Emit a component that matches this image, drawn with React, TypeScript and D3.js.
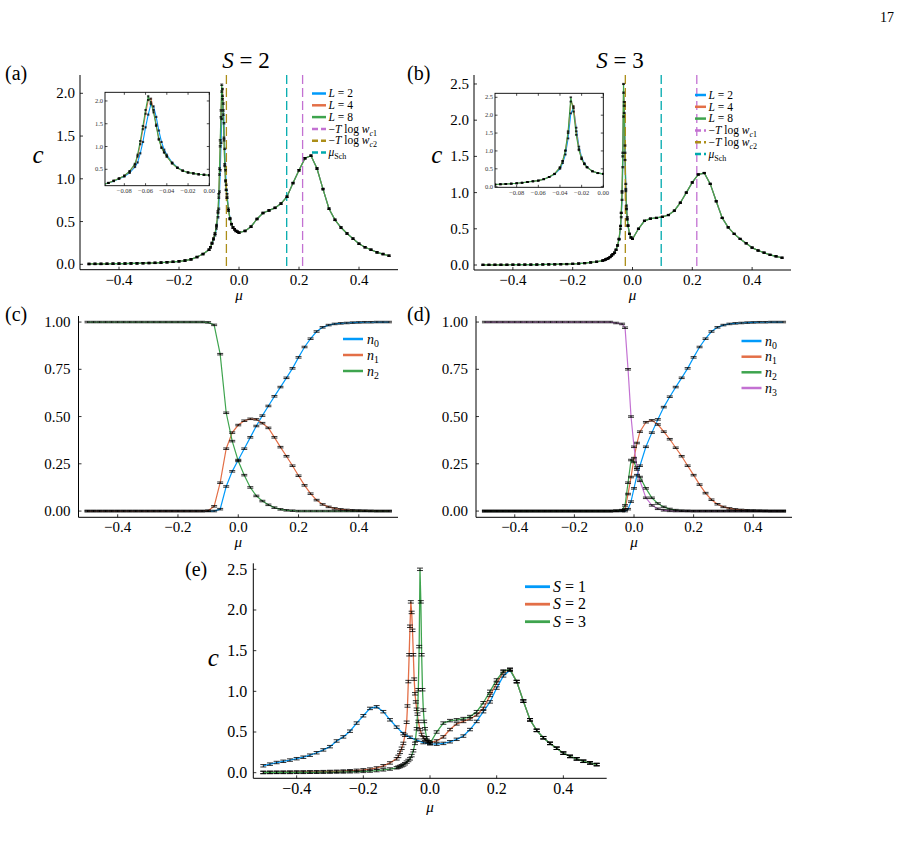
import React from 'react'
import * as d3 from 'd3'

const FONT = "'Liberation Serif', 'DejaVu Serif', serif"
const BLUE = '#009AFA'
const ORANGE = '#E36F47'
const GREEN = '#3EA44E'
const PURPLE = '#C371D2'
const GOLD = '#AC8E18'
const CYAN = '#00AAAE'

// (a) S = 2, specific heat for L = 2, 4, 8
const muA = [-0.5, -0.48, -0.46, -0.44, -0.42, -0.4, -0.38, -0.36, -0.34, -0.32, -0.3, -0.28, -0.26, -0.24, -0.22, -0.2, -0.18, -0.16, -0.14, -0.12,
  -0.1, -0.095, -0.09, -0.085, -0.08, -0.075, -0.07, -0.0675, -0.065, -0.0625, -0.06, -0.0575, -0.055, -0.0525, -0.05, -0.0475, -0.045, -0.0425, -0.04, -0.035, -0.03, -0.025, -0.02, -0.015, -0.01, -0.005, 0,
  0.02, 0.04, 0.06, 0.08, 0.1, 0.12, 0.14, 0.16, 0.18, 0.2, 0.22, 0.24, 0.26, 0.28, 0.3, 0.32, 0.34, 0.36, 0.38, 0.4, 0.42, 0.44, 0.46, 0.48, 0.5]
const cA8 = [0.004, 0.005, 0.005, 0.006, 0.007, 0.008, 0.009, 0.01, 0.011, 0.013, 0.015, 0.017, 0.02, 0.024, 0.029, 0.035, 0.044, 0.058, 0.085, 0.12,
  0.17, 0.2, 0.25, 0.3, 0.36, 0.46, 0.62, 0.82, 1.12, 1.45, 1.8, 2.1, 1.97, 1.75, 1.45, 1.15, 0.97, 0.87, 0.78, 0.63, 0.53, 0.47, 0.43, 0.41, 0.39, 0.38, 0.37,
  0.39, 0.44, 0.53, 0.6, 0.63, 0.66, 0.71, 0.79, 0.95, 1.1, 1.24, 1.27, 1.12, 0.88, 0.65, 0.52, 0.43, 0.36, 0.3, 0.24, 0.2, 0.17, 0.14, 0.12, 0.1]
const cA4 = [0.004, 0.005, 0.005, 0.006, 0.007, 0.008, 0.009, 0.01, 0.011, 0.013, 0.015, 0.017, 0.02, 0.024, 0.029, 0.035, 0.044, 0.058, 0.085, 0.12,
  0.17, 0.2, 0.25, 0.3, 0.36, 0.45, 0.6, 0.78, 1.05, 1.38, 1.72, 2.02, 2.05, 1.8, 1.48, 1.17, 0.98, 0.87, 0.78, 0.63, 0.53, 0.47, 0.43, 0.41, 0.39, 0.38, 0.37,
  0.39, 0.44, 0.53, 0.6, 0.63, 0.66, 0.71, 0.79, 0.95, 1.1, 1.24, 1.27, 1.12, 0.88, 0.65, 0.52, 0.43, 0.36, 0.3, 0.24, 0.2, 0.17, 0.14, 0.12, 0.1]
const cA2 = [0.004, 0.005, 0.005, 0.006, 0.007, 0.008, 0.009, 0.01, 0.011, 0.013, 0.015, 0.017, 0.02, 0.024, 0.029, 0.035, 0.044, 0.058, 0.085, 0.12,
  0.17, 0.2, 0.24, 0.29, 0.34, 0.42, 0.55, 0.65, 0.85, 1.1, 1.42, 1.7, 1.93, 1.88, 1.65, 1.35, 1.1, 0.93, 0.82, 0.65, 0.54, 0.47, 0.43, 0.41, 0.39, 0.38, 0.37,
  0.39, 0.44, 0.53, 0.6, 0.63, 0.66, 0.71, 0.79, 0.95, 1.1, 1.24, 1.27, 1.12, 0.88, 0.65, 0.52, 0.43, 0.36, 0.3, 0.24, 0.2, 0.17, 0.14, 0.12, 0.1]
const vlinesA = [0.212, -0.042, 0.159] // -T log w_c1, -T log w_c2, mu_Sch

// (b) S = 3
const muB = [-0.5, -0.48, -0.46, -0.44, -0.42, -0.4, -0.38, -0.36, -0.34, -0.32, -0.3, -0.28, -0.26, -0.24, -0.22, -0.2, -0.18, -0.16, -0.14, -0.12,
  -0.1, -0.095, -0.09, -0.085, -0.08, -0.075, -0.07, -0.065, -0.06, -0.055, -0.05, -0.045, -0.04, -0.0375, -0.035, -0.0325, -0.03, -0.0275, -0.025, -0.0225, -0.02, -0.0175, -0.015, -0.01, -0.005, 0,
  0.02, 0.04, 0.06, 0.08, 0.1, 0.12, 0.14, 0.16, 0.18, 0.2, 0.22, 0.24, 0.26, 0.28, 0.3, 0.32, 0.34, 0.36, 0.38, 0.4, 0.42, 0.44, 0.46, 0.48, 0.5]
const cB8 = [0.002, 0.002, 0.003, 0.003, 0.003, 0.004, 0.004, 0.005, 0.005, 0.006, 0.007, 0.008, 0.009, 0.011, 0.013, 0.016, 0.02, 0.026, 0.035, 0.045,
  0.06, 0.068, 0.076, 0.085, 0.095, 0.11, 0.13, 0.15, 0.17, 0.21, 0.27, 0.36, 0.54, 0.72, 1.02, 1.55, 2.5, 2.1, 1.45, 1.02, 0.77, 0.63, 0.54, 0.43, 0.38, 0.36,
  0.5, 0.61, 0.64, 0.65, 0.665, 0.69, 0.75, 0.86, 1.0, 1.14, 1.25, 1.27, 1.12, 0.88, 0.65, 0.52, 0.43, 0.36, 0.3, 0.24, 0.2, 0.17, 0.14, 0.12, 0.1]
const cB4 = [0.002, 0.002, 0.003, 0.003, 0.003, 0.004, 0.004, 0.005, 0.005, 0.006, 0.007, 0.008, 0.009, 0.011, 0.013, 0.016, 0.02, 0.026, 0.035, 0.045,
  0.06, 0.068, 0.076, 0.085, 0.095, 0.11, 0.13, 0.15, 0.17, 0.21, 0.27, 0.36, 0.54, 0.72, 1.0, 1.5, 2.38, 2.25, 1.55, 1.05, 0.78, 0.63, 0.54, 0.43, 0.38, 0.36,
  0.5, 0.61, 0.64, 0.65, 0.665, 0.69, 0.75, 0.86, 1.0, 1.14, 1.25, 1.27, 1.12, 0.88, 0.65, 0.52, 0.43, 0.36, 0.3, 0.24, 0.2, 0.17, 0.14, 0.12, 0.1]
const cB2 = [0.002, 0.002, 0.003, 0.003, 0.003, 0.004, 0.004, 0.005, 0.005, 0.006, 0.007, 0.008, 0.009, 0.011, 0.013, 0.016, 0.02, 0.026, 0.035, 0.045,
  0.06, 0.068, 0.076, 0.085, 0.095, 0.11, 0.13, 0.15, 0.17, 0.21, 0.27, 0.35, 0.5, 0.66, 0.9, 1.35, 2.05, 2.2, 1.65, 1.12, 0.82, 0.66, 0.55, 0.43, 0.38, 0.36,
  0.5, 0.61, 0.64, 0.65, 0.665, 0.69, 0.75, 0.86, 1.0, 1.14, 1.25, 1.27, 1.12, 0.88, 0.65, 0.52, 0.43, 0.36, 0.3, 0.24, 0.2, 0.17, 0.14, 0.12, 0.1]
const vlinesB = [0.215, -0.024, 0.096]

// (c) S = 2 occupations
const muC = [-0.5, -0.48, -0.46, -0.44, -0.42, -0.4, -0.38, -0.36, -0.34, -0.32, -0.3, -0.28, -0.26, -0.24, -0.22, -0.2, -0.18, -0.16, -0.14, -0.12, -0.1, -0.08,
  -0.06, -0.04, -0.02, 0, 0.02, 0.04, 0.06, 0.08, 0.1, 0.12, 0.14, 0.16, 0.18, 0.2, 0.22, 0.24, 0.26, 0.28, 0.3, 0.32, 0.34, 0.36, 0.38, 0.4, 0.42, 0.44, 0.46, 0.48, 0.5]
const n0C = [0, 0, 0, 0, 0, 0, 0, 0, 0, 0, 0, 0, 0, 0, 0, 0, 0, 0, 0, 0, 0, 0,
  0.01, 0.13, 0.21, 0.27, 0.33, 0.39, 0.45, 0.505, 0.556, 0.607, 0.656, 0.705, 0.755, 0.813, 0.868, 0.912, 0.95, 0.972, 0.984, 0.99, 0.993, 0.995, 0.997, 0.998, 0.999, 0.999, 1, 1, 1]
const n1C = [0, 0, 0, 0, 0, 0, 0, 0, 0, 0, 0, 0, 0, 0, 0, 0, 0, 0, 0, 0, 0.002, 0.025,
  0.15, 0.33, 0.415, 0.455, 0.478, 0.488, 0.485, 0.465, 0.44, 0.39, 0.338, 0.29, 0.24, 0.187, 0.136, 0.092, 0.058, 0.035, 0.022, 0.014, 0.009, 0.006, 0.004, 0.003, 0.002, 0.001, 0, 0, 0]
const n2C = [1, 1, 1, 1, 1, 1, 1, 1, 1, 1, 1, 1, 1, 1, 1, 1, 1, 1, 1, 1, 0.998, 0.985,
  0.83, 0.52, 0.37, 0.265, 0.19, 0.125, 0.08, 0.053, 0.033, 0.018, 0.009, 0.004, 0.002, 0, 0, 0, 0, 0, 0, 0, 0, 0, 0, 0, 0, 0, 0, 0, 0]

// (d) S = 3 occupations
const muD = [-0.5, -0.48, -0.46, -0.44, -0.42, -0.4, -0.38, -0.36, -0.34, -0.32, -0.3, -0.28, -0.26, -0.24, -0.22, -0.2, -0.18, -0.16, -0.14, -0.12, -0.1, -0.08, -0.06,
  -0.04, -0.03, -0.02, -0.01, 0, 0.01, 0.02,
  0.04, 0.06, 0.08, 0.1, 0.12, 0.14, 0.16, 0.18, 0.2, 0.22, 0.24, 0.26, 0.28, 0.3, 0.32, 0.34, 0.36, 0.38, 0.4, 0.42, 0.44, 0.46, 0.48, 0.5]
const n0D = [0, 0, 0, 0, 0, 0, 0, 0, 0, 0, 0, 0, 0, 0, 0, 0, 0, 0, 0, 0, 0, 0, 0,
  0, 0, 0.01, 0.05, 0.12, 0.19, 0.24,
  0.34, 0.415, 0.485, 0.55, 0.605, 0.656, 0.705, 0.755, 0.813, 0.868, 0.912, 0.95, 0.972, 0.984, 0.99, 0.993, 0.995, 0.997, 0.998, 0.999, 0.999, 1, 1, 1]
const n1D = [0, 0, 0, 0, 0, 0, 0, 0, 0, 0, 0, 0, 0, 0, 0, 0, 0, 0, 0, 0, 0, 0, 0.001,
  0.003, 0.01, 0.09, 0.18, 0.28, 0.36, 0.42,
  0.47, 0.48, 0.458, 0.42, 0.38, 0.335, 0.29, 0.24, 0.19, 0.14, 0.095, 0.06, 0.036, 0.022, 0.014, 0.009, 0.006, 0.004, 0.003, 0.002, 0.001, 0, 0, 0]
const n2D = [0, 0, 0, 0, 0, 0, 0, 0, 0, 0, 0, 0, 0, 0, 0, 0, 0, 0, 0, 0, 0, 0, 0.002,
  0.005, 0.03, 0.15, 0.27, 0.26, 0.22, 0.18,
  0.12, 0.07, 0.04, 0.022, 0.011, 0.005, 0.002, 0.001, 0, 0, 0, 0, 0, 0, 0, 0, 0, 0, 0, 0, 0, 0, 0, 0]
const n3D = [1, 1, 1, 1, 1, 1, 1, 1, 1, 1, 1, 1, 1, 1, 1, 1, 1, 1, 1, 1, 1, 1, 0.995,
  0.99, 0.97, 0.75, 0.5, 0.34, 0.23, 0.16,
  0.07, 0.03, 0.012, 0.004, 0.001, 0, 0, 0, 0, 0, 0, 0, 0, 0, 0, 0, 0, 0, 0, 0, 0, 0, 0, 0]

// (e) S = 1 (S = 2 and S = 3 reuse the L = 8 curves above)
const muE1 = [-0.5, -0.48, -0.46, -0.44, -0.42, -0.4, -0.38, -0.36, -0.34, -0.32, -0.3, -0.28, -0.26, -0.24, -0.22, -0.2, -0.18, -0.16, -0.14, -0.12, -0.1, -0.08, -0.06, -0.04, -0.02,
  0, 0.02, 0.04, 0.06, 0.08, 0.1, 0.12, 0.14, 0.16, 0.18, 0.2, 0.22, 0.24, 0.26, 0.28, 0.3, 0.32, 0.34, 0.36, 0.38, 0.4, 0.42, 0.44, 0.46, 0.48, 0.5]
const cE1 = [0.085, 0.105, 0.125, 0.14, 0.155, 0.172, 0.19, 0.215, 0.245, 0.28, 0.32, 0.39, 0.44, 0.51, 0.61, 0.7, 0.79, 0.81, 0.75, 0.65, 0.56, 0.48, 0.435, 0.4, 0.37,
  0.355, 0.35, 0.36, 0.38, 0.41, 0.45, 0.53, 0.63, 0.75, 0.87, 1.04, 1.19, 1.26, 1.12, 0.88, 0.65, 0.52, 0.43, 0.36, 0.3, 0.24, 0.2, 0.17, 0.14, 0.12, 0.1]

const xTicks = [-0.4, -0.2, 0, 0.2, 0.4]
const cTicksA = [0, 0.5, 1, 1.5, 2]
const cTicksB = [0, 0.5, 1, 1.5, 2, 2.5]
const nTicks = [0, 0.25, 0.5, 0.75, 1]
const insetXTicks = [-0.08, -0.06, -0.04, -0.02, 0]
const insetYTicksA = [0.5, 1, 1.5, 2]
const insetYTicksB = [0, 0.5, 1, 1.5, 2, 2.5]

const minus = (s: string) => s.replace('-', '\u2212')
const f1 = (v: number) => minus(v.toFixed(1))
const f2 = (v: number) => minus(v.toFixed(2))

type Series = { mu: number[]; v: number[]; color: string }
type Box = [number, number, number, number] // left, top, right, bottom

const linePath = (x: any, y: any, s: Series) =>
  d3.line<number>().x((_, i) => x(s.mu[i])).y((d) => y(d))(s.v) || ''

const errPath = (x: any, y: any, s: Series, e: number, cap: number) => {
  const p = d3.path()
  s.mu.forEach((m, i) => {
    const px = x(m)
    const a = y(s.v[i] + e)
    const b = y(s.v[i] - e)
    p.moveTo(px - cap / 2, a); p.lineTo(px + cap / 2, a)
    p.moveTo(px, a); p.lineTo(px, b)
    p.moveTo(px - cap / 2, b); p.lineTo(px + cap / 2, b)
  })
  return p.toString()
}

function Curves({ id, x, y, series, err, cap, lw, vlines, ew = 0.8 }: any) {
  const [l, r] = x.range()
  const [b, t] = y.range()
  return (
    <g>
      <clipPath id={id}>
        <rect x={l} y={t - 4} width={r - l} height={b - t + 4} />
      </clipPath>
      <g clipPath={`url(#${id})`}>
        {series.map((s: Series, i: number) => (
          <path key={i} d={linePath(x, y, s)} fill="none" stroke={s.color} strokeWidth={lw} />
        ))}
        {(vlines || []).map((v: { at: number; color: string }, i: number) => (
          <line key={'v' + i} x1={x(v.at)} x2={x(v.at)} y1={t} y2={b} stroke={v.color} strokeWidth={1.3} strokeDasharray="9 4" />
        ))}
        {series.map((s: Series, i: number) => (
          <path key={'e' + i} d={errPath(x, y, s, err, cap)} fill="none" stroke="#000" strokeWidth={ew} />
        ))}
      </g>
    </g>
  )
}

function Axes({ x, y, yTicks, yFmt, fs, gap, xlabY, ylab, labFs }: any) {
  const [l, r] = x.range()
  const [b, t] = y.range()
  return (
    <g fontFamily={FONT} fontSize={fs} fill="#000">
      <line x1={l} x2={r} y1={b} y2={b} stroke="#000" strokeWidth={1} />
      <line x1={l} x2={l} y1={b} y2={t} stroke="#000" strokeWidth={1} />
      {xTicks.map((v) => (
        <g key={'x' + v}>
          <line x1={x(v)} x2={x(v)} y1={b} y2={b - 3} stroke="#000" strokeWidth={0.8} />
          <text x={x(v)} y={b + fs} textAnchor="middle">{f1(v)}</text>
        </g>
      ))}
      {yTicks.map((v: number) => (
        <g key={'y' + v}>
          <line x1={l} x2={l + 3} y1={y(v)} y2={y(v)} stroke="#000" strokeWidth={0.8} />
          <text x={l - gap} y={y(v)} dy="0.33em" textAnchor="end">{yFmt(v)}</text>
        </g>
      ))}
      <text x={(l + r) / 2} y={b + xlabY} textAnchor="middle" fontStyle="italic" fontSize={labFs || fs}>μ</text>
      {ylab && (
        <text x={ylab[0]} y={ylab[1]} textAnchor="middle" fontStyle="italic" fontSize={25}>c</text>
      )}
    </g>
  )
}

function Inset({ id, box, xDom, yDom, series, yTicks }: any) {
  const [l, t, r, b] = box as Box
  const x = d3.scaleLinear().domain(xDom).range([l, r])
  const y = d3.scaleLinear().domain(yDom).range([b, t])
  return (
    <g>
      <rect x={l} y={t} width={r - l} height={b - t} fill="#fff" />
      <Curves id={id} x={x} y={y} series={series} err={0.012} cap={2.5} lw={1.1} ew={0.7} />
      <rect x={l} y={t} width={r - l} height={b - t} fill="none" stroke="#000" strokeWidth={0.9} />
      <g fontFamily={FONT} fontSize={6.5} fill="#333">
        {insetXTicks.map((v) => (
          <g key={'x' + v}>
            <line x1={x(v)} x2={x(v)} y1={b} y2={b - 2.5} stroke="#000" strokeWidth={0.7} />
            <line x1={x(v)} x2={x(v)} y1={t} y2={t + 2.5} stroke="#000" strokeWidth={0.7} />
            <text x={x(v)} y={b + 7.5} textAnchor="middle">{f2(v)}</text>
          </g>
        ))}
        {yTicks.map((v: number) => (
          <g key={'y' + v}>
            <line x1={l} x2={l + 2.5} y1={y(v)} y2={y(v)} stroke="#000" strokeWidth={0.7} />
            <line x1={r} x2={r - 2.5} y1={y(v)} y2={y(v)} stroke="#000" strokeWidth={0.7} />
            <text x={l - 2} y={y(v)} dy="0.33em" textAnchor="end">{f1(v)}</text>
          </g>
        ))}
      </g>
    </g>
  )
}

const Sub = ({ children }: any) => (
  <tspan fontSize="70%" dy={3}>{children}</tspan>
)

function Legend({ x1, x2, tx, rows, fs, items, lw }: any) {
  return (
    <g fontFamily={FONT} fontSize={fs} fill="#000">
      {items.map((it: any, i: number) => (
        <g key={i}>
          <line x1={x1} x2={x2} y1={rows[i]} y2={rows[i]} stroke={it.color} strokeWidth={lw} strokeDasharray={it.dash ? '6 3' : undefined} />
          <text x={tx} y={rows[i] + fs * 0.33}>{it.label}</text>
        </g>
      ))}
    </g>
  )
}

const lEq = (n: string) => (
  <>
    <tspan fontStyle="italic">L</tspan> = {n}
  </>
)
const tlog = (k: string) => (
  <>
    {'\u2212'}<tspan fontStyle="italic">T</tspan> log <tspan fontStyle="italic">w</tspan>
    <Sub><tspan fontStyle="italic">c</tspan>{k}</Sub>
  </>
)
const nSub = (k: string) => (
  <>
    <tspan fontStyle="italic">n</tspan>
    <Sub>{k}</Sub>
  </>
)
const sEq = (n: string) => (
  <>
    <tspan fontStyle="italic">S</tspan> = {n}
  </>
)

function legendCItems(colors: string[]) {
  return [
    { color: BLUE, label: lEq('2') },
    { color: ORANGE, label: lEq('4') },
    { color: GREEN, label: lEq('8') },
    { color: colors[0], dash: true, label: tlog('1') },
    { color: colors[1], dash: true, label: tlog('2') },
    { color: colors[2], dash: true, label: (<><tspan fontStyle="italic">μ</tspan><Sub>Sch</Sub></>) },
  ]
}

export default function App() {
  const xD: [number, number] = [-0.53, 0.53]

  // (a)
  const xa = d3.scaleLinear().domain(xD).range([80, 398])
  const ya = d3.scaleLinear().domain([-0.063, 2.214]).range([269.7, 75])
  const serA: Series[] = [
    { mu: muA, v: cA2, color: BLUE },
    { mu: muA, v: cA4, color: ORANGE },
    { mu: muA, v: cA8, color: GREEN },
  ]
  const vlA = [
    { at: vlinesA[0], color: PURPLE },
    { at: vlinesA[1], color: GOLD },
    { at: vlinesA[2], color: CYAN },
  ]

  // (b)
  const xb = d3.scaleLinear().domain(xD).range([474, 791])
  const yb = d3.scaleLinear().domain([-0.069, 2.624]).range([270, 75])
  const serB: Series[] = [
    { mu: muB, v: cB2, color: BLUE },
    { mu: muB, v: cB4, color: ORANGE },
    { mu: muB, v: cB8, color: GREEN },
  ]
  const vlB = [
    { at: vlinesB[0], color: PURPLE },
    { at: vlinesB[1], color: GOLD },
    { at: vlinesB[2], color: CYAN },
  ]

  // (c), (d)
  const xc = d3.scaleLinear().domain(xD).range([78.5, 398])
  const yc = d3.scaleLinear().domain([-0.033, 1.032]).range([517.3, 316])
  const xd = d3.scaleLinear().domain(xD).range([476, 792])
  const yd = yc.copy()
  const serC: Series[] = [
    { mu: muC, v: n0C, color: BLUE },
    { mu: muC, v: n1C, color: ORANGE },
    { mu: muC, v: n2C, color: GREEN },
  ]
  const serD: Series[] = [
    { mu: muD, v: n0D, color: BLUE },
    { mu: muD, v: n1D, color: ORANGE },
    { mu: muD, v: n2D, color: GREEN },
    { mu: muD, v: n3D, color: PURPLE },
  ]

  // (e)
  const xe = d3.scaleLinear().domain(xD).range([253.3, 606.7])
  const ye = d3.scaleLinear().domain([-0.069, 2.574]).range([778.3, 563.3])
  const serE: Series[] = [
    { mu: muE1, v: cE1, color: BLUE },
    { mu: muA, v: cA8, color: ORANGE },
    { mu: muB, v: cB8, color: GREEN },
  ]

  return (
    <svg width={911} height={846} style={{ position: 'absolute', left: 0, top: 0, background: '#fff' }} fontFamily={FONT}>
      <rect width={911} height={846} fill="#fff" />
      <text x={887} y={22} fontSize={14} textAnchor="middle">17</text>

      {/* (a) */}
      <Curves id="ca" x={xa} y={ya} series={serA} err={0.008} cap={3} lw={1.2} vlines={vlA} />
      <Axes x={xa} y={ya} yTicks={cTicksA} yFmt={f1} fs={15} gap={5} xlabY={30} ylab={[38, 163]} />
      <Inset id="ia" box={[105, 92.3, 209.3, 185.7]} xDom={[-0.0982, 0]} yDom={[0.14, 2.19]} series={serA} yTicks={insetYTicksA} />
      <Legend x1={312} x2={326} tx={328.5} rows={[93.5, 105.3, 117.1, 128.9, 140.7, 152.5]} fs={11.5} lw={2.5} items={legendCItems([PURPLE, GOLD, CYAN])} />
      <text x={246} y={68} fontSize={23} textAnchor="middle"><tspan fontStyle="italic">S</tspan> = 2</text>
      <text x={5} y={80} fontSize={20}>(a)</text>

      {/* (b) */}
      <Curves id="cb" x={xb} y={yb} series={serB} err={0.008} cap={3} lw={1.2} vlines={vlB} />
      <Axes x={xb} y={yb} yTicks={cTicksB} yFmt={f1} fs={15} gap={5} xlabY={30} ylab={[436.7, 163]} />
      <Inset id="ib" box={[495, 93.3, 603.3, 187.3]} xDom={[-0.1, 0]} yDom={[-0.017, 2.612]} series={serB} yTicks={insetYTicksB} />
      <Legend x1={695} x2={706} tx={708.5} rows={[95, 106.8, 118.6, 130.4, 142.2, 154]} fs={11.5} lw={2.5} items={legendCItems([PURPLE, GOLD, CYAN])} />
      <text x={620} y={68} fontSize={23} textAnchor="middle"><tspan fontStyle="italic">S</tspan> = 3</text>
      <text x={407} y={80} fontSize={20}>(b)</text>

      {/* (c) */}
      <Curves id="cc" x={xc} y={yc} series={serC} err={0.004} cap={6} lw={1.2} />
      <Axes x={xc} y={yc} yTicks={nTicks} yFmt={f2} fs={15} gap={8} xlabY={30} />
      <Legend x1={343} x2={363} tx={367} rows={[339, 355, 371]} fs={14} lw={2.5}
        items={[{ color: BLUE, label: nSub('0') }, { color: ORANGE, label: nSub('1') }, { color: GREEN, label: nSub('2') }]} />
      <text x={5} y={321} fontSize={20}>(c)</text>

      {/* (d) */}
      <Curves id="cd" x={xd} y={yd} series={serD} err={0.004} cap={6} lw={1.2} />
      <Axes x={xd} y={yd} yTicks={nTicks} yFmt={f2} fs={15} gap={8} xlabY={30} />
      <Legend x1={741.5} x2={761.5} tx={765} rows={[341, 356.7, 372.3, 388]} fs={14} lw={2.5}
        items={[{ color: BLUE, label: nSub('0') }, { color: ORANGE, label: nSub('1') }, { color: GREEN, label: nSub('2') }, { color: PURPLE, label: nSub('3') }]} />
      <text x={407} y={321} fontSize={20}>(d)</text>

      {/* (e) */}
      <Curves id="ce" x={xe} y={ye} series={serE} err={0.015} cap={6} lw={1.3} />
      <Axes x={xe} y={ye} yTicks={cTicksB} yFmt={f1} fs={16} gap={6} xlabY={33.5} labFs={15} ylab={[213.3, 666]} />
      <Legend x1={525} x2={550} tx={553} rows={[586.7, 604.2, 621.7]} fs={16} lw={2.8}
        items={[{ color: BLUE, label: sEq('1') }, { color: ORANGE, label: sEq('2') }, { color: GREEN, label: sEq('3') }]} />
      <text x={185} y={576} fontSize={20}>(e)</text>
    </svg>
  )
}
